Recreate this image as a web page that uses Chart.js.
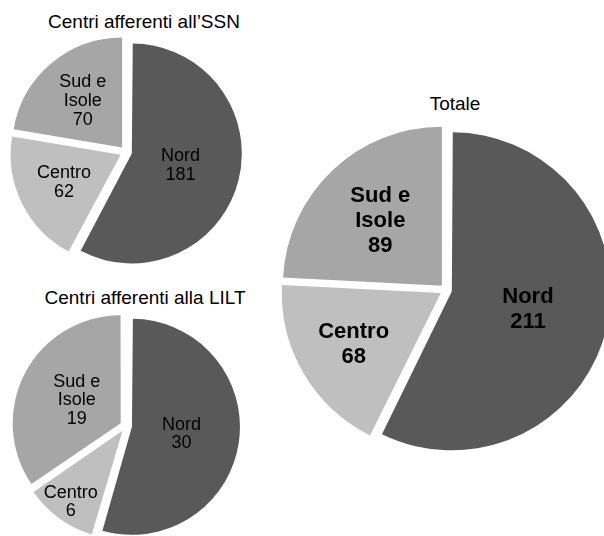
<!DOCTYPE html>
<html lang="it">
<head>
<meta charset="utf-8">
<script src="https://cdn.jsdelivr.net/npm/chart.js@4.4.1/dist/chart.umd.min.js"></script>
<style>
  html, body { margin: 0; padding: 0; background: #fff; }
  body { width: 604px; height: 536px; overflow: hidden; position: relative; font-family: 'Liberation Sans', Arial, sans-serif; }
  .titolo { position: absolute; font-size: 19px; color: #000; white-space: nowrap; transform: translate(-50%, -50%); }
  canvas { position: absolute; }
</style>
</head>
<body>
<div class="titolo" style="left:144px;top:22px">Centri afferenti all’SSN</div>
<div class="titolo" style="left:145px;top:298px">Centri afferenti alla LILT</div>
<div class="titolo" style="left:455px;top:104px">Totale</div>

<canvas id="pieSSN" width="252" height="250" style="left:0;top:27px"></canvas>
<canvas id="pieLILT" width="250" height="236" style="left:1px;top:308px"></canvas>
<canvas id="pieTotale" width="340" height="340" style="left:276px;top:120px"></canvas>

<script>
// dati
const categorie = [['Nord'], ['Centro'], ['Sud e', 'Isole']];
const valoriSSN = [181, 62, 70];
const valoriLILT = [30, 6, 19];
const valoriTotale = [211, 68, 89];

const colori = ['#595959', '#bfbfbf', '#a6a6a6'];

// etichette dentro le fette
const etichettePlugin = {
    id: 'etichette',
    afterDatasetsDraw(chart, args, opts) {
        const { ctx } = chart;
        const meta = chart.getDatasetMeta(0);
        const valori = chart.data.datasets[0].data;
        ctx.save();
        ctx.font = opts.font;
        ctx.fillStyle = '#000';
        ctx.textAlign = 'center';
        ctx.textBaseline = 'middle';
        meta.data.forEach((arc, i) => {
            const { x, y, startAngle, endAngle, outerRadius } = arc;
            const mid = (startAngle + endAngle) / 2;
            const dist = outerRadius * opts.posizione[i];
            const righe = [...chart.data.labels[i], String(valori[i])];
            const cx = x + Math.cos(mid) * dist;
            const cy = y + Math.sin(mid) * dist;
            righe.forEach((riga, k) => {
                ctx.fillText(riga, cx, cy + (k - (righe.length - 1) / 2) * opts.interlinea);
            });
        });
        ctx.restore();
    }
};

// la fetta grande non deve crescere con l'offset
const raggioPlugin = {
    id: 'raggio',
    afterDatasetUpdate(chart, args) {
        args.meta.data.forEach(arc => {
            const off = (arc.options.offset || 0) / 4;
            const fix = 1 - Math.sin(Math.min(Math.PI, arc.circumference));
            arc.outerRadius -= off * fix;
        });
    }
};

const creaTorta = (id, valori, raggio, etichette) => {
    new Chart(document.getElementById(id), {
        type: 'pie',
        data: {
            labels: categorie,
            datasets: [{
                data: valori,
                backgroundColor: colori,
                borderWidth: 0,
                offset: 24,
                radius: raggio
            }]
        },
        options: {
            responsive: false,
            animation: false,
            events: [],
            layout: { padding: 0 },
            plugins: {
                legend: { display: false },
                tooltip: { enabled: false },
                etichette: etichette
            }
        },
        plugins: [raggioPlugin, etichettePlugin]
    });
};

creaTorta('pieSSN', valoriSSN, 110, {
    font: '18px "Liberation Sans", Arial, sans-serif',
    interlinea: 19,
    posizione: [0.54, 0.63, 0.61]
});

creaTorta('pieLILT', valoriLILT, 108, {
    font: '18px "Liberation Sans", Arial, sans-serif',
    interlinea: 18.5,
    posizione: [0.55, 0.89, 0.52]
});

creaTorta('pieTotale', valoriTotale, 159, {
    font: 'bold 22px "Liberation Sans", Arial, sans-serif',
    interlinea: 25,
    posizione: [0.55, 0.675, 0.6]
});
</script>
</body>
</html>
